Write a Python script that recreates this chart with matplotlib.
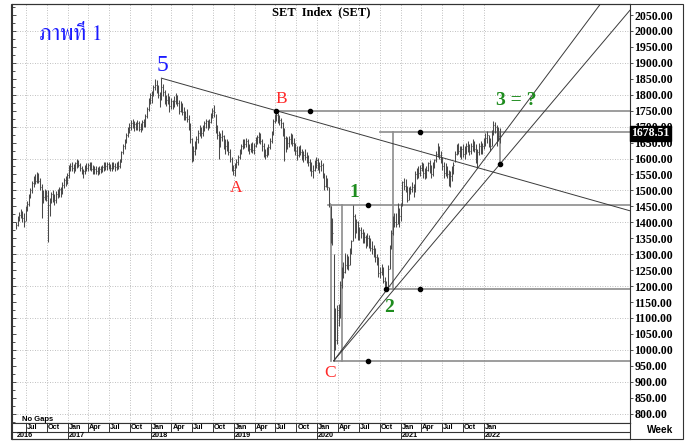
import matplotlib

matplotlib.use("Agg")

import matplotlib.dates as mdates
import matplotlib.pyplot as plt
import matplotlib.transforms as mtransforms
import pandas as pd
from matplotlib import font_manager
from matplotlib.ft2font import FT2Font
from matplotlib.patches import Rectangle
from matplotlib.ticker import FixedLocator, MultipleLocator

# weekly bars, first bar is the week ending 2016-05-20
FIRST_WEEK = "2016-05-20"

week_high = [
    # 2016
    1400, 1420, 1432, 1442, 1436, 1428, 1450, 1468, 1490, 1508, 1530, 1546, 1550, 1558, 1555, 1538, 1520,
    1500, 1505, 1500, 1500, 1475, 1495, 1500, 1490, 1498, 1505, 1510, 1512, 1525, 1540, 1545, 1555,
    # 2017
    1580, 1585, 1590, 1582, 1590, 1597, 1596, 1585, 1578, 1568, 1580, 1585, 1585, 1590, 1588, 1580, 1575,
    1578, 1572, 1575, 1578, 1580, 1588, 1590, 1588, 1590, 1582, 1588, 1590, 1585, 1588, 1592, 1598, 1625,
    1645, 1660, 1680, 1700, 1712, 1722, 1725, 1718, 1715, 1720, 1718, 1710, 1722, 1725, 1740, 1762, 1790, 1805,
    # 2018
    1812, 1830, 1848, 1845, 1830, 1810, 1852, 1835, 1815, 1800, 1805, 1795, 1790, 1785, 1795, 1805, 1800,
    1785, 1780, 1775, 1760, 1750, 1755, 1735, 1710, 1665, 1640, 1655, 1670, 1690, 1705, 1700, 1705, 1718,
    1725, 1720, 1725, 1742, 1758, 1767, 1740, 1705, 1685, 1680, 1690, 1675, 1660, 1662, 1655, 1630, 1605, 1580,
    # 2019
    1585, 1600, 1610, 1630, 1645, 1660, 1662, 1665, 1660, 1645, 1650, 1652, 1648, 1668, 1675, 1683, 1680,
    1660, 1648, 1630, 1635, 1645, 1665, 1685, 1725, 1740, 1750, 1742, 1738, 1728, 1715, 1695, 1670, 1668,
    1672, 1680, 1678, 1665, 1650, 1638, 1640, 1642, 1630, 1625, 1630, 1620, 1610, 1600, 1590, 1580, 1595, 1605,
    # 2020
    1603, 1590, 1595, 1585, 1555, 1547, 1540, 1512, 1450, 1415, 1302, 1130, 1140, 1145, 1215, 1260, 1275,
    1305, 1300, 1295, 1320, 1345, 1455, 1425, 1410, 1405, 1385, 1385, 1380, 1370, 1360, 1365, 1360, 1350,
    1340, 1330, 1320, 1300, 1290, 1260, 1270, 1260, 1230, 1215, 1265, 1330, 1375, 1420, 1430, 1430, 1460, 1445,
    # 2021
    1460, 1530, 1540, 1535, 1515, 1510, 1515, 1525, 1520, 1560, 1570, 1575, 1580, 1590, 1585, 1570, 1575,
    1590, 1595, 1580, 1590, 1600, 1625, 1648, 1640, 1625, 1605, 1590, 1585, 1575, 1565, 1560, 1575, 1590,
    1625, 1645, 1650, 1640, 1640, 1645, 1640, 1650, 1655, 1645, 1650, 1660, 1655, 1645, 1630, 1650, 1655,
    1650, 1665,
    # 2022
    1680, 1685, 1675, 1665, 1690, 1718, 1715, 1705, 1700, 1695,
]

week_low = [
    # 2016
    1378, 1388, 1405, 1412, 1400, 1385, 1405, 1435, 1452, 1475, 1492, 1512, 1520, 1522, 1522, 1500, 1412,
    1460, 1470, 1468, 1338, 1420, 1460, 1465, 1455, 1462, 1475, 1478, 1480, 1488, 1508, 1515, 1520,
    # 2017
    1540, 1560, 1562, 1555, 1560, 1570, 1572, 1562, 1550, 1540, 1552, 1560, 1562, 1565, 1560, 1552, 1550,
    1552, 1548, 1550, 1555, 1558, 1562, 1565, 1565, 1568, 1560, 1562, 1568, 1562, 1565, 1568, 1570, 1588,
    1615, 1630, 1648, 1668, 1680, 1690, 1695, 1685, 1688, 1690, 1685, 1683, 1690, 1698, 1700, 1728, 1750, 1770,
    # 2018
    1775, 1795, 1815, 1805, 1790, 1760, 1785, 1795, 1770, 1765, 1770, 1745, 1755, 1755, 1760, 1770, 1765,
    1740, 1745, 1735, 1720, 1720, 1715, 1690, 1650, 1590, 1592, 1610, 1630, 1650, 1670, 1665, 1670, 1685,
    1695, 1690, 1695, 1710, 1728, 1730, 1680, 1660, 1600, 1635, 1655, 1630, 1615, 1625, 1610, 1590, 1560, 1548,
    # 2019
    1545, 1570, 1580, 1600, 1615, 1630, 1632, 1635, 1625, 1615, 1620, 1618, 1615, 1635, 1645, 1650, 1645,
    1625, 1605, 1600, 1605, 1612, 1630, 1650, 1675, 1710, 1718, 1712, 1705, 1695, 1670, 1592, 1620, 1630,
    1635, 1645, 1640, 1625, 1610, 1595, 1605, 1610, 1595, 1590, 1595, 1585, 1575, 1560, 1545, 1540, 1560, 1570,
    # 2020
    1565, 1555, 1560, 1540, 1500, 1510, 1500, 1447, 1334, 1330, 966, 1000, 1020, 1075, 1100, 1195, 1225,
    1240, 1255, 1250, 1265, 1300, 1340, 1350, 1365, 1345, 1345, 1350, 1335, 1335, 1320, 1325, 1320, 1310,
    1300, 1290, 1275, 1265, 1230, 1225, 1235, 1210, 1195, 1186, 1195, 1255, 1315, 1360, 1385, 1385, 1395, 1385,
    # 2021
    1405, 1450, 1500, 1495, 1465, 1470, 1490, 1495, 1478, 1495, 1535, 1540, 1545, 1560, 1540, 1535, 1540,
    1560, 1555, 1540, 1545, 1570, 1590, 1605, 1600, 1585, 1565, 1540, 1545, 1540, 1515, 1510, 1530, 1550,
    1590, 1610, 1615, 1605, 1600, 1605, 1600, 1615, 1620, 1610, 1615, 1625, 1620, 1585, 1570, 1610, 1615,
    1615, 1630,
    # 2022
    1640, 1650, 1635, 1625, 1640, 1675, 1680, 1640, 1655, 1650,
]

week_close = [
    # 2016
    1392, 1410, 1422, 1430, 1412, 1405, 1445, 1458, 1484, 1500, 1524, 1538, 1528, 1550, 1530, 1512, 1480,
    1478, 1495, 1482, 1455, 1468, 1488, 1475, 1470, 1490, 1482, 1505, 1490, 1518, 1532, 1528, 1548,
    # 2017
    1575, 1578, 1570, 1578, 1585, 1590, 1580, 1570, 1555, 1560, 1575, 1570, 1580, 1582, 1568, 1565, 1568,
    1560, 1556, 1568, 1562, 1572, 1580, 1575, 1582, 1575, 1570, 1582, 1576, 1572, 1580, 1575, 1590, 1620,
    1640, 1652, 1675, 1690, 1700, 1710, 1700, 1708, 1695, 1712, 1692, 1700, 1715, 1705, 1732, 1755, 1782, 1798,
    # 2018
    1805, 1825, 1830, 1815, 1800, 1790, 1825, 1810, 1780, 1785, 1790, 1765, 1780, 1770, 1780, 1795, 1775,
    1750, 1768, 1745, 1735, 1730, 1725, 1700, 1660, 1600, 1625, 1645, 1660, 1680, 1695, 1680, 1695, 1710,
    1718, 1700, 1715, 1735, 1750, 1745, 1690, 1675, 1640, 1668, 1670, 1645, 1640, 1650, 1620, 1600, 1570, 1565,
    # 2019
    1578, 1590, 1605, 1625, 1640, 1650, 1645, 1655, 1635, 1630, 1640, 1628, 1640, 1660, 1668, 1672, 1655,
    1640, 1615, 1612, 1625, 1635, 1655, 1678, 1718, 1730, 1735, 1725, 1720, 1712, 1690, 1665, 1645, 1650,
    1660, 1668, 1650, 1635, 1625, 1610, 1630, 1620, 1605, 1612, 1605, 1595, 1590, 1575, 1560, 1565, 1585, 1595,
    # 2020
    1580, 1575, 1580, 1550, 1515, 1530, 1510, 1460, 1340, 1365, 1115, 1030, 1125, 1110, 1205, 1250, 1245,
    1265, 1285, 1265, 1310, 1340, 1420, 1370, 1400, 1350, 1375, 1365, 1345, 1355, 1330, 1350, 1335, 1320,
    1315, 1305, 1290, 1285, 1240, 1245, 1255, 1215, 1210, 1195, 1255, 1320, 1365, 1405, 1400, 1395, 1440, 1420,
    # 2021
    1449, 1525, 1515, 1505, 1470, 1500, 1505, 1510, 1495, 1550, 1555, 1555, 1570, 1580, 1555, 1550, 1565,
    1585, 1570, 1550, 1580, 1595, 1615, 1630, 1610, 1595, 1575, 1555, 1570, 1550, 1525, 1545, 1560, 1580,
    1615, 1635, 1625, 1615, 1630, 1615, 1630, 1640, 1630, 1625, 1640, 1650, 1630, 1600, 1620, 1640, 1625,
    1640, 1658,
    # 2022
    1665, 1675, 1645, 1640, 1685, 1705, 1700, 1685, 1670, 1678.51,
]

price_ticks = list(range(800, 2051, 50))
grid_prices = list(range(800, 2001, 100))

# analyst drawings: (date, price)
trend_start = ("2018-02-16", 1852)
trend_through = ("2019-07-05", 1750)
fan_origin = ("2020-03-13", 966)
fan_through = [("2020-10-30", 1187), ("2022-03-11", 1582)]
level_starts = [("2019-07-05", 1750), ("2020-10-01", 1682), ("2020-02-16", 1455),
                ("2020-10-30", 1190), ("2020-03-13", 966)]
range_bars = [("2020-03-01", 966, 1455), ("2020-04-16", 966, 1455),
              ("2020-11-27", 1190, 1682), ("2022-03-11", 1582, 1682)]
marker_points = [("2019-07-05", 1750), ("2019-11-29", 1750), ("2021-03-25", 1682),
                 ("2020-08-09", 1455), ("2020-08-09", 966), ("2020-10-30", 1190),
                 ("2021-03-25", 1190), ("2022-03-11", 1582)]

wave_labels = [
    ("5", "2018-02-20", 1893, "#1a1aff", 17, "normal"),
    ("B", "2019-07-25", 1786, "#ff2a2a", 12.5, "normal"),
    ("A", "2019-01-08", 1508, "#ff2a2a", 12.5, "normal"),
    ("C", "2020-02-24", 927, "#ff2a2a", 12.5, "normal"),
    ("1", "2020-06-11", 1494, "#1e8c1e", 14, "bold"),
    ("2", "2020-11-09", 1134, "#1e8c1e", 14, "bold"),
    ("3 = ?", "2022-05-22", 1781, "#1e8c1e", 14, "bold"),
]

X_RANGE = ("2016-05-02", "2023-10-03")
Y_RANGE = (771.7, 2084.5)

BAR = "#4a4a4a"
LEVEL = "#8c8c8c"
DRAW = "#3a3a3a"
GRID = "#ababab"
FRAME = "#333333"
SERIF = "Liberation Serif"
SANS = "Liberation Sans"


def _thai_family() -> list[str]:
    found = []
    for entry in font_manager.fontManager.ttflist:
        try:
            cmap = FT2Font(entry.fname).get_charmap()
        except Exception:
            continue
        if 0x0E20 in cmap and 0x0E35 in cmap:
            found.append(entry.name)
    found.sort(key=lambda name: ("Serif" not in name, name))
    return found[:1] + [SERIF, "DejaVu Sans"]


def _d(text: str) -> float:
    return mdates.date2num(pd.Timestamp(text))


W, H = 686, 442


def fx(px: float) -> float:
    return px / W


def fy(py: float) -> float:
    return 1 - py / H


fig = plt.figure(figsize=(W / 100, H / 100), dpi=100)
fig.patch.set_facecolor("white")

ax = fig.add_axes([fx(12), fy(422.7), fx(630) - fx(12), fy(4) - fy(422.7)])
x_left, x_right = _d(X_RANGE[0]), _d(X_RANGE[1])
ax.set_xlim(x_left, x_right)
ax.set_ylim(*Y_RANGE)

quarter_ticks = pd.date_range("2016-07-01", "2022-01-01", freq="QS")
for tick in quarter_ticks:
    ax.axvline(mdates.date2num(tick), color=GRID, lw=0.6, dashes=(1, 2), zorder=0)
for level in grid_prices:
    ax.axhline(level, color=GRID, lw=0.6, dashes=(1, 2), zorder=0)

dates = pd.date_range(FIRST_WEEK, periods=len(week_close), freq="7D")
xd = mdates.date2num(dates)
ax.vlines(xd, week_low, week_high, color=BAR, lw=0.75, zorder=3)
ax.hlines(week_close, xd, xd + 3.0, color=BAR, lw=0.75, zorder=3)

# horizontal levels and vertical ranges
for start, price in level_starts:
    ax.plot([_d(start), x_right], [price, price], color=LEVEL, lw=1.2, zorder=2)
for day, lo, hi in range_bars:
    ax.plot([_d(day), _d(day)], [lo, hi], color=LEVEL, lw=1.2, zorder=2)

# down trendline from wave 5 through B
tx0, ty0 = _d(trend_start[0]), trend_start[1]
tx1, ty1 = _d(trend_through[0]), trend_through[1]
slope = (ty1 - ty0) / (tx1 - tx0)
ax.plot([tx0, x_right], [ty0, ty0 + slope * (x_right - tx0)], color=DRAW, lw=0.7, zorder=4)

# fan lines from C
fx0, fy0 = _d(fan_origin[0]), fan_origin[1]
for day, price in fan_through:
    s = (price - fy0) / (_d(day) - fx0)
    ax.plot([fx0, x_right], [fy0, fy0 + s * (x_right - fx0)], color=DRAW, lw=0.7, zorder=4)

ax.plot([_d(d) for d, _ in marker_points], [p for _, p in marker_points], "o",
        color="black", ms=3.0, zorder=5)

for text, day, price, color, size, weight in wave_labels:
    ax.text(_d(day), price, text, color=color, fontsize=size, fontweight=weight,
            family=SERIF, ha="center", va="center", zorder=6)

ax.text(_d("2017-01-15"), 1988, "ภาพที่ 1", color="#1a1aff", fontsize=16,
        family=_thai_family(), ha="center", va="center", zorder=6)
ax.text(10 / 618, 0.007, "No Gaps", transform=ax.transAxes, fontsize=5.5,
        fontweight="bold", family=SANS, ha="left", va="center")

ax.tick_params(axis="x", bottom=False, labelbottom=False)
ax.yaxis.set_major_locator(MultipleLocator(50))
ax.yaxis.set_minor_locator(MultipleLocator(25))
ax.tick_params(axis="y", which="both", direction="in", left=True, right=False,
               labelleft=False, color=FRAME, width=0.6)
ax.tick_params(axis="y", which="major", length=3)
ax.tick_params(axis="y", which="minor", length=1.8)
for spine in ax.spines.values():
    spine.set_color(FRAME)
    spine.set_linewidth(0.8)

ax2 = ax.twinx()
ax2.set_ylim(*Y_RANGE)
ax2.yaxis.set_major_locator(FixedLocator(price_ticks))
ax2.set_yticklabels([f"{p:.2f}" for p in price_ticks])
ax2.tick_params(axis="y", direction="out", length=2.5, pad=0.5, width=0.6, color=FRAME,
                labelsize=8.6)
for label in ax2.get_yticklabels():
    label.set_family(SERIF)
    label.set_fontweight("bold")
for spine in ax2.spines.values():
    spine.set_visible(False)

last_close = week_close[-1]
ax2.text(1.0 + 1.5 / 618, last_close, f"{last_close:.2f}",
         transform=mtransforms.blended_transform_factory(ax.transAxes, ax.transData),
         color="white", fontsize=8.6, fontweight="bold", family=SERIF, ha="left", va="center",
         bbox=dict(boxstyle="square,pad=0.12", facecolor="black", edgecolor="black"),
         zorder=10, clip_on=False)

# date strip
dax = fig.add_axes([fx(12), fy(439), fx(630) - fx(12), fy(422.7) - fy(439)])
dax.set_xlim(x_left, x_right)
dax.set_ylim(0, 16.3)
dax.set_xticks([])
dax.set_yticks([])
for spine in dax.spines.values():
    spine.set_color(FRAME)
    spine.set_linewidth(0.8)
dax.axhline(7.3, color=FRAME, lw=0.8)
for tick in quarter_ticks:
    xt = mdates.date2num(tick)
    dax.plot([xt, xt], [0 if tick.month == 1 else 7.3, 16.3], color=FRAME, lw=0.7)
    dax.text(xt + 4, 11.9, tick.strftime("%b"), fontsize=5.2, fontweight="bold",
             family=SANS, ha="left", va="center")
    if tick.month == 1:
        dax.text(xt + 4, 3.6, str(tick.year), fontsize=5.2, fontweight="bold",
                 family=SANS, ha="left", va="center")
dax.text(5 / 618, 3.6, str(dates[0].year),
         transform=mtransforms.blended_transform_factory(dax.transAxes, dax.transData),
         fontsize=5.2, fontweight="bold", family=SANS, ha="left", va="center")

fig.text(fx(660), fy(430), "Week", fontsize=7.2, fontweight="bold", family=SANS,
         ha="center", va="center")
fig.text(fx(321), fy(12), "SET  Index  (SET)", fontsize=9, fontweight="bold", family=SERIF,
         ha="center", va="center")

fig.add_artist(Rectangle((fx(11), fy(439)), fx(683) - fx(11), fy(4) - fy(439),
                         transform=fig.transFigure, fill=False, edgecolor=FRAME, lw=0.8))

fig.savefig("out.png", dpi=100, facecolor=fig.get_facecolor())
